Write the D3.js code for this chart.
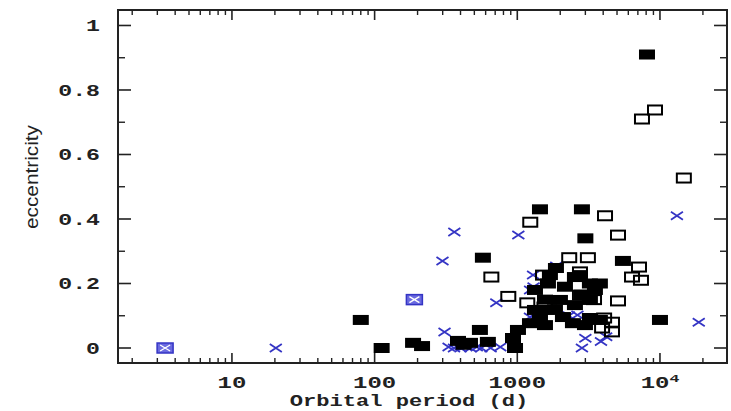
<!DOCTYPE html>
<html><head><meta charset="utf-8">
<script src="https://cdn.jsdelivr.net/npm/d3@7"></script>
<style>body{margin:0;background:#fff}svg{display:block}</style>
</head><body>
<svg id="chart" width="731" height="411"></svg>
<script>
// Orbital period (days) and eccentricity for each marker group
const filledPeriod = [80, 112, 186, 215, 384, 420, 466, 547, 574, 622, 933, 964, 1011, 1227, 1330, 1330, 1442, 1442, 1563, 1563, 1614, 1640, 1693, 1836, 1866, 1990, 2089, 2158, 2455, 2535, 2535, 2750, 2838, 2838, 2980, 3000, 3228, 3228, 3228, 3500, 3792, 3792, 5500, 8110, 10000];
const filledEcc    = [0.087, 0.0, 0.016, 0.006, 0.022, 0.01, 0.016, 0.056, 0.28, 0.019, 0.031, 0.0, 0.056, 0.077, 0.18, 0.118, 0.43, 0.096, 0.15, 0.071, 0.118, 0.20, 0.226, 0.12, 0.248, 0.149, 0.096, 0.19, 0.077, 0.22, 0.133, 0.226, 0.43, 0.165, 0.071, 0.34, 0.20, 0.149, 0.093, 0.18, 0.20, 0.087, 0.27, 0.91, 0.087];

const openPeriod = [658, 865, 1175, 1233, 1515, 1550, 2312, 2750, 2750, 3125, 3450, 4120, 5080, 5080, 6370, 7130, 7360, 4060, 4610, 3930, 4610, 7480, 9230, 14700];
const openEcc    = [0.22, 0.16, 0.14, 0.39, 0.226, 0.127, 0.28, 0.236, 0.164, 0.28, 0.15, 0.41, 0.35, 0.146, 0.22, 0.251, 0.21, 0.093, 0.08, 0.062, 0.05, 0.71, 0.738, 0.527];

const crossPeriod = [20.3, 299, 309, 362, 1017, 713, 1875, 1290, 1230, 1227, 2040, 2640, 2838, 3860, 4200, 13150, 18700, 330, 360, 400, 430, 470, 520, 560, 650, 760, 1300, 1400, 2300, 3000];
const crossEcc    = [0.0, 0.27, 0.05, 0.36, 0.35, 0.14, 0.254, 0.226, 0.18, 0.096, 0.149, 0.102, 0.0, 0.02, 0.035, 0.41, 0.08, 0.003, 0.0, 0.0, 0.006, 0.0, 0.003, 0.0, 0.0, 0.003, 0.19, 0.1, 0.1, 0.03];

const boxedPeriod = [3.4, 190];
const boxedEcc    = [0.0, 0.15];

const xTickValues = [10, 100, 1000, 10000];
const xTickLabels = ["10", "100", "1000", "10^4"];
const yTickValues = [0, 0.2, 0.4, 0.6, 0.8, 1];
const yMinorValues = [0.1, 0.3, 0.5, 0.7, 0.9];

const svg = d3.select("#chart");
const plotLeft = 118, plotRight = 727, plotTop = 10, plotBottom = 363;

const x = d3.scaleLog().domain([1.59, 29500]).range([plotLeft, plotRight]);
const y = d3.scaleLinear().domain([-0.0465, 1.048]).range([plotBottom, plotTop]);

const ink = "#222";
const blue = "#3434c4";

// log minor ticks 2..9 in each decade
const minorX = [];
for (let d = 1; d <= 10000; d *= 10) {
  for (let k = 2; k <= 9; k++) {
    const v = d * k;
    if (v >= 1.6 && v <= 29500) minorX.push(v);
  }
}

const g = svg.append("g");

// frame
g.append("rect").attr("x", plotLeft).attr("y", plotTop)
  .attr("width", plotRight - plotLeft).attr("height", plotBottom - plotTop)
  .attr("fill", "none").attr("stroke", ink).attr("stroke-width", 2);

// bottom and top ticks (pointing into the plot)
function xTicks(vals, y0, len, w) {
  g.append("g").selectAll("line").data(vals).join("line")
    .attr("x1", d => x(d)).attr("x2", d => x(d))
    .attr("y1", y0).attr("y2", y0 + len)
    .attr("stroke", ink).attr("stroke-width", w);
}
xTicks(xTickValues, plotBottom, -10, 1.6);
xTicks(minorX, plotBottom, -5, 1.4);
xTicks(xTickValues, plotTop, 10, 1.6);
xTicks(minorX, plotTop, 5, 1.4);

// left and right ticks
function yTicks(vals, x0, len, w) {
  g.append("g").selectAll("line").data(vals).join("line")
    .attr("x1", x0).attr("x2", x0 + len)
    .attr("y1", d => y(d)).attr("y2", d => y(d))
    .attr("stroke", ink).attr("stroke-width", w);
}
yTicks(yTickValues, plotLeft, 13, 1.6);
yTicks(yMinorValues, plotLeft, 7, 1.4);
yTicks(yTickValues, plotRight, -13, 1.6);
yTicks(yMinorValues, plotRight, -7, 1.4);

// tick labels
const mono = "'Liberation Mono', 'DejaVu Sans Mono', monospace";
xTickValues.forEach((v, i) => {
  const lab = xTickLabels[i];
  const t = g.append("text")
    .attr("transform", `translate(${x(v)},388) scale(1.5,1)`)
    .attr("text-anchor", "middle")
    .attr("font-family", mono).attr("font-size", 16).attr("font-weight", "bold")
    .attr("fill", ink);
  if (lab.includes("^")) {
    const [b, e] = lab.split("^");
    t.append("tspan").text(b);
    t.append("tspan").attr("dy", -6).attr("font-size", 11).text(e);
  } else {
    t.text(lab);
  }
});

yTickValues.forEach(v => {
  g.append("text")
    .attr("transform", `translate(100,${y(v) + 6}) scale(1.45,1)`)
    .attr("text-anchor", "end")
    .attr("font-family", mono).attr("font-size", 16).attr("font-weight", "bold")
    .attr("fill", ink)
    .text(d3.format("")(v));
});

// axis titles
g.append("text")
  .attr("transform", "translate(409,406) scale(1.3,1)")
  .attr("text-anchor", "middle")
  .attr("font-family", mono).attr("font-size", 17).attr("font-weight", "bold")
  .attr("fill", ink).text("Orbital period (d)");

g.append("text")
  .attr("transform", "translate(38,177) rotate(-90)")
  .attr("text-anchor", "middle")
  .attr("font-family", "'Liberation Sans', Arial, sans-serif").attr("font-size", 18)
  .attr("textLength", 104).attr("lengthAdjust", "spacingAndGlyphs")
  .attr("fill", ink).text("eccentricity");

// markers
const plot = g.append("g");
const cw = 12, ch = 8;

const crosses = d3.range(crossPeriod.length).map(i => [crossPeriod[i], crossEcc[i]]);
plot.selectAll(".cross").data(crosses).join("path")
  .attr("d", d => {
    const cx = x(d[0]), cy = y(d[1]);
    return `M${cx - cw / 2},${cy - ch / 2}L${cx + cw / 2},${cy + ch / 2}M${cx - cw / 2},${cy + ch / 2}L${cx + cw / 2},${cy - ch / 2}`;
  })
  .attr("stroke", blue).attr("stroke-width", 1.8).attr("fill", "none");

const boxed = d3.range(boxedPeriod.length).map(i => [boxedPeriod[i], boxedEcc[i]]);
const bx = plot.selectAll(".boxed").data(boxed).join("g")
  .attr("transform", d => `translate(${x(d[0])},${y(d[1])})`);
bx.append("rect").attr("x", -8).attr("y", -5).attr("width", 16).attr("height", 10)
  .attr("fill", "#6a6ae0").attr("stroke", blue).attr("stroke-width", 1.5);
bx.append("path").attr("d", `M-5,-3L5,3M-5,3L5,-3`)
  .attr("stroke", "#fff").attr("stroke-width", 1.4);

const filled = d3.range(filledPeriod.length).map(i => [filledPeriod[i], filledEcc[i]]);
plot.selectAll(".filled").data(filled).join("rect")
  .attr("x", d => x(d[0]) - 8).attr("y", d => y(d[1]) - 5)
  .attr("width", 16).attr("height", 10)
  .attr("fill", "#000");

const open = d3.range(openPeriod.length).map(i => [openPeriod[i], openEcc[i]]);
plot.selectAll(".open").data(open).join("rect")
  .attr("x", d => x(d[0]) - 7).attr("y", d => y(d[1]) - 4.5)
  .attr("width", 14).attr("height", 9)
  .attr("fill", "none").attr("stroke", "#000").attr("stroke-width", 2);
</script>
</body></html>
